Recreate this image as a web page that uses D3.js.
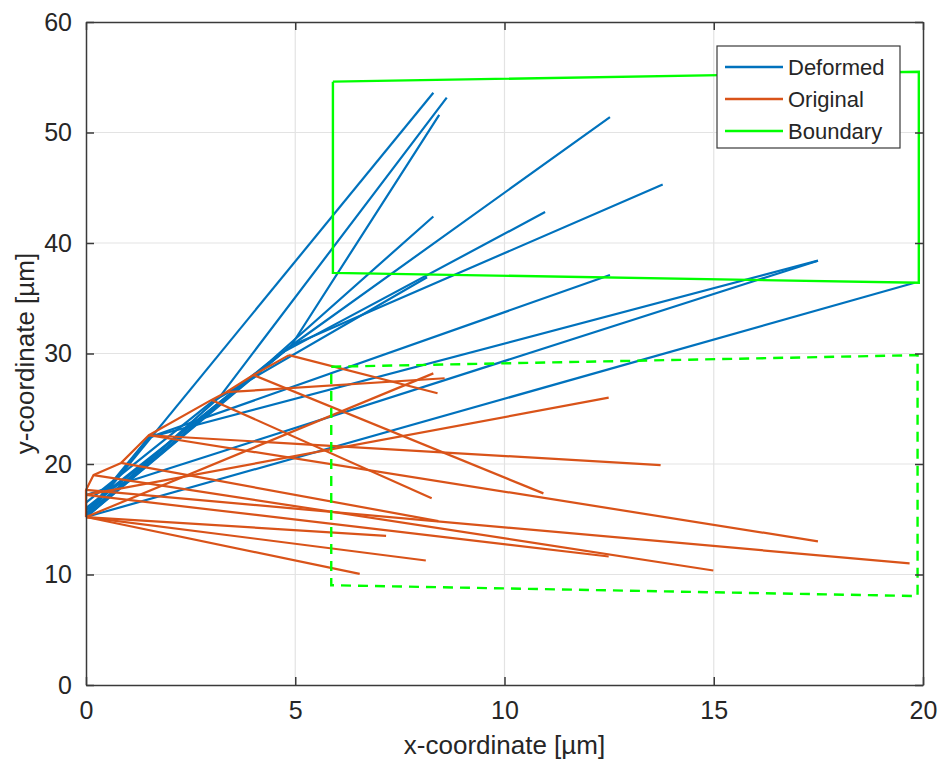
<!DOCTYPE html>
<html>
<head>
<meta charset="utf-8">
<script src="https://cdn.jsdelivr.net/npm/d3@7/dist/d3.min.js"></script>
<style>
  body { margin: 0; background: #fff; }
  text { font-family: "Liberation Sans", Arial, Helvetica, sans-serif; fill: #262626; }
</style>
</head>
<body>
<div id="chart"></div>
<script>
// tick values
var xTicks = [0, 5, 10, 15, 20];
var yTicks = [0, 10, 20, 30, 40, 50, 60];

// deformed fibres: root point -> kink -> free end
var deformedLines = [
  [[0, 15.2], [8.3, 53.6]],
  [[0, 15.2], [3.2, 26.1], [8.62, 53.15]],
  [[0, 15.2], [4.9, 30.7], [8.44, 51.6]],
  [[0, 15.5], [4.9, 30.7], [12.52, 51.4]],
  [[0, 16.0], [4.9, 30.7], [13.78, 45.3]],
  [[0, 15.2], [4.6, 29.9], [10.97, 42.8]],
  [[0, 15.8], [4.4, 29.3], [8.3, 42.4]],
  [[0, 15.2], [1.5, 22.4], [12.52, 37.1]],
  [[0, 16.5], [3.0, 25.6], [8.15, 36.9]],
  [[0, 15.5], [1.5, 22.4], [17.49, 38.4]],
  [[0, 17.2], [17.49, 38.4]],
  [[0, 15.2], [19.8, 36.4]]
];

// original fibres (first one is the kinked root line)
var originalLines = [
  [[0, 15.2], [0, 17.65], [0.18, 19.0], [0.84, 20.1], [1.5, 22.6], [3.0, 25.8], [3.35, 26.5], [4.0, 28.05], [4.85, 29.85]],
  [[4.85, 29.85], [8.4, 26.4]],
  [[4.0, 28.05], [10.93, 17.34]],
  [[3.35, 26.5], [8.57, 27.76]],
  [[3.0, 25.8], [8.26, 16.9]],
  [[1.5, 22.6], [13.73, 19.9]],
  [[1.5, 22.6], [17.49, 13.0]],
  [[0.84, 20.1], [8.42, 14.83]],
  [[0.18, 19.0], [14.99, 10.36]],
  [[0, 17.65], [19.68, 11.0]],
  [[0, 17.2], [12.49, 26.0]],
  [[0, 15.2], [8.3, 28.2]],
  [[0, 17.2], [12.49, 11.63]],
  [[0, 15.2], [7.17, 13.5]],
  [[0, 15.2], [8.12, 11.27]],
  [[0, 15.2], [6.54, 10.06]]
];

// boundary boxes: deformed (solid) and original (dashed)
var boundaryDeformed = [[5.9, 54.6], [19.9, 55.5], [19.9, 36.4], [5.9, 37.3], [5.9, 54.6]];
var boundaryOriginal = [[5.86, 28.8], [19.87, 29.85], [19.87, 8.05], [5.86, 9.03], [5.86, 28.8]];

var legendNames = ["Deformed", "Original", "Boundary"];
var colors = { Deformed: "#0072BD", Original: "#D95319", Boundary: "#00FF00" };

(function() {
var W = 942, H = 766;
var pl = 86, pr = 923, pt = 22, pb = 685;

var svg = d3.select("#chart").append("svg")
  .attr("width", W)
  .attr("height", H);

var x = d3.scaleLinear().domain([0, 20]).range([pl, pr]);
var y = d3.scaleLinear().domain([0, 60]).range([pb, pt]);

// grid
svg.append("g").selectAll("line").data(xTicks.slice(1, -1)).enter().append("line")
  .attr("x1", function(d) { return x(d); }).attr("x2", function(d) { return x(d); })
  .attr("y1", pt).attr("y2", pb)
  .attr("stroke", "#e3e3e3").attr("stroke-width", 1.2);
svg.append("g").selectAll("line").data(yTicks.slice(1, -1)).enter().append("line")
  .attr("y1", function(d) { return y(d); }).attr("y2", function(d) { return y(d); })
  .attr("x1", pl).attr("x2", pr)
  .attr("stroke", "#e3e3e3").attr("stroke-width", 1.2);

var line = d3.line().x(function(d) { return x(d[0]); }).y(function(d) { return y(d[1]); });

svg.append("g").selectAll("path").data(deformedLines).enter().append("path")
  .attr("d", line).attr("fill", "none")
  .attr("stroke", colors.Deformed).attr("stroke-width", 2.2)
  .attr("stroke-linejoin", "round");

svg.append("g").selectAll("path").data(originalLines).enter().append("path")
  .attr("d", line).attr("fill", "none")
  .attr("stroke", colors.Original).attr("stroke-width", 2.2)
  .attr("stroke-linejoin", "round");

svg.append("path").datum(boundaryDeformed).attr("d", line).attr("fill", "none")
  .attr("stroke", colors.Boundary).attr("stroke-width", 2.4);
svg.append("path").datum(boundaryOriginal).attr("d", line).attr("fill", "none")
  .attr("stroke", colors.Boundary).attr("stroke-width", 2.4)
  .attr("stroke-dasharray", "10,7");

// axes (box with inward ticks on all four sides)
var axisColor = "#3a3a3a";
var tickLen = 8;
var xb = d3.axisBottom(x).tickValues(xTicks).tickSizeInner(-tickLen).tickSizeOuter(0).tickPadding(16);
var xt = d3.axisTop(x).tickValues(xTicks).tickSizeInner(-tickLen).tickSizeOuter(0).tickFormat("");
var yl = d3.axisLeft(y).tickValues(yTicks).tickSizeInner(-tickLen).tickSizeOuter(0).tickPadding(14);
var yr = d3.axisRight(y).tickValues(yTicks).tickSizeInner(-tickLen).tickSizeOuter(0).tickFormat("");

function style(g) {
  g.select(".domain").attr("stroke", axisColor).attr("stroke-width", 1.5);
  g.selectAll(".tick line").attr("stroke", axisColor).attr("stroke-width", 1.5);
  g.selectAll(".tick text").attr("font-size", 25).attr("fill", "#262626")
    .attr("font-family", "Liberation Sans, Arial, sans-serif");
}
svg.append("g").attr("transform", "translate(0," + pb + ")").call(xb).call(style);
svg.append("g").attr("transform", "translate(0," + pt + ")").call(xt).call(style);
svg.append("g").attr("transform", "translate(" + pl + ",0)").call(yl).call(style);
svg.append("g").attr("transform", "translate(" + pr + ",0)").call(yr).call(style);

// axis labels
svg.append("text").attr("x", (pl + pr) / 2).attr("y", 754)
  .attr("text-anchor", "middle").attr("font-size", 26)
  .text("x-coordinate [µm]");
svg.append("text").attr("transform", "translate(34," + ((pt + pb) / 2) + ") rotate(-90)")
  .attr("text-anchor", "middle").attr("font-size", 26)
  .text("y-coordinate [µm]");

// legend
var lg = svg.append("g");
lg.append("rect").attr("x", 717).attr("y", 46).attr("width", 183).attr("height", 102)
  .attr("fill", "#fff").attr("stroke", axisColor).attr("stroke-width", 1.2);
legendNames.forEach(function(name, i) {
  var ly = 67 + i * 32;
  lg.append("line").attr("x1", 725).attr("x2", 783).attr("y1", ly).attr("y2", ly)
    .attr("stroke", colors[name]).attr("stroke-width", 2.4);
  lg.append("text").attr("x", 788).attr("y", ly + 8).attr("font-size", 22).text(name);
});
})();
</script>
</body>
</html>
